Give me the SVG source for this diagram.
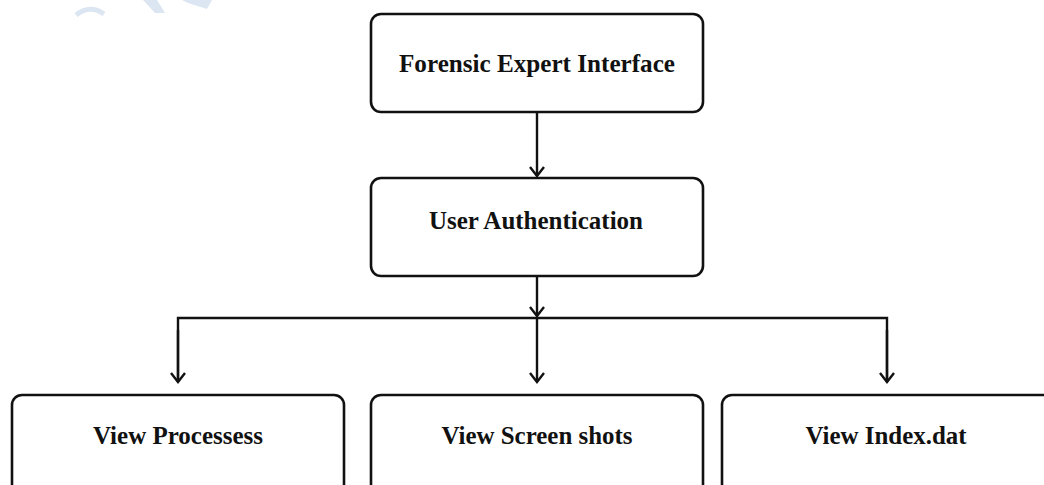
<svg xmlns="http://www.w3.org/2000/svg" width="1044" height="485" viewBox="0 0 1044 485">
<style>
.box{fill:#fff;stroke:#111;stroke-width:2.6}
.lbl{font-family:"Liberation Serif","Times New Roman",serif;font-weight:bold;font-size:24.5px;fill:#111;text-anchor:middle}
.wire{fill:none;stroke:#111;stroke-width:2.4}
.wm{fill:#dbe6f2}
</style>
<defs>
<marker id="arr" markerUnits="userSpaceOnUse" markerWidth="20" markerHeight="20" refX="0" refY="0" viewBox="-12 -10 14 20" orient="auto" overflow="visible">
<path d="M-9,-7 L0,0 L-9,7" fill="none" stroke="#111" stroke-width="2.4"/>
</marker>
</defs>
<rect width="1044" height="485" fill="#fff"/>
<g id="watermark">
<path d="M76,15 Q90,4 104,14" fill="none" stroke="#dbe6f2" stroke-width="5"/>
<polygon class="wm" points="143,0 157,0 165,13 155,13"/>
<polygon class="wm" points="182,0 212,0 207,9 188,3"/>
</g>
<g id="connectors">
<path class="wire" d="M537,112 V176" marker-end="url(#arr)"/>
<path class="wire" d="M537,276 V316" marker-end="url(#arr)"/>
<path class="wire" d="M537,318 V382" marker-end="url(#arr)"/>
<path class="wire" d="M178,382 V318 H887 V382" marker-start="none"/>
<path class="wire" d="M178,330 V382" marker-end="url(#arr)"/>
<path class="wire" d="M887,330 V382" marker-end="url(#arr)"/>
</g>
<g id="node-forensic">
<rect class="box" x="371" y="14" width="332" height="98" rx="10"/>
<text class="lbl" x="537" y="72" textLength="276" lengthAdjust="spacingAndGlyphs">Forensic Expert Interface</text>
</g>
<g id="node-auth">
<rect class="box" x="371" y="178" width="332" height="98" rx="10"/>
<text class="lbl" x="536" y="229" textLength="214" lengthAdjust="spacingAndGlyphs">User Authentication</text>
</g>
<g id="node-processes">
<rect class="box" x="12" y="395" width="332" height="120" rx="10"/>
<text class="lbl" x="178" y="444" textLength="170" lengthAdjust="spacingAndGlyphs">View Processess</text>
</g>
<g id="node-screenshots">
<rect class="box" x="371" y="395" width="332" height="120" rx="10"/>
<text class="lbl" x="537" y="444" textLength="191" lengthAdjust="spacingAndGlyphs">View Screen shots</text>
</g>
<g id="node-indexdat">
<rect class="box" x="722" y="395" width="340" height="120" rx="10"/>
<text class="lbl" x="886" y="444" textLength="161" lengthAdjust="spacingAndGlyphs">View Index.dat</text>
</g>
</svg>
